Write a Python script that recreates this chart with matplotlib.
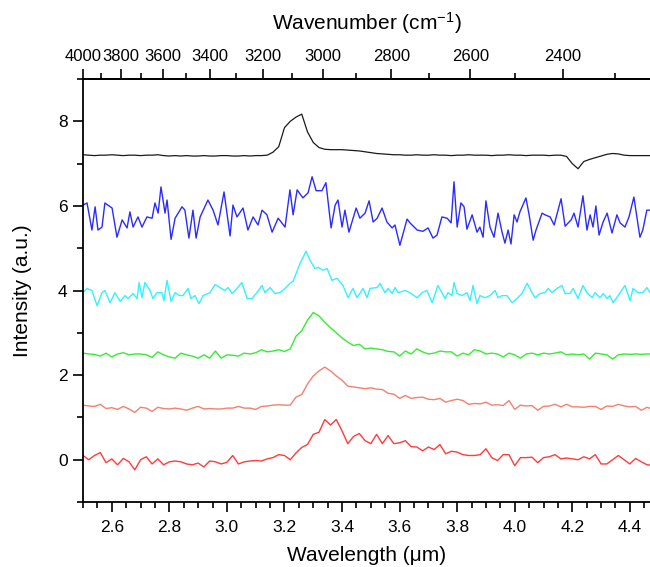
import numpy as np
import matplotlib.pyplot as plt
from matplotlib.ticker import MultipleLocator, FixedLocator

plt.rcParams["font.family"] = ["Liberation Sans", "DejaVu Sans"]
plt.rcParams["mathtext.fontset"] = "custom"
plt.rcParams["mathtext.rm"] = "Liberation Sans"
plt.rcParams["mathtext.default"] = "regular"

# common sampling grid in wavelength (um) for the smoother traces
wavelength = np.round(np.arange(2.50, 4.49, 0.02), 2)

black = [7.21, 7.20, 7.19, 7.20, 7.20, 7.21, 7.20, 7.19, 7.20, 7.20,
         7.19, 7.20, 7.20, 7.21, 7.19, 7.18, 7.19, 7.18, 7.19, 7.18,
         7.18, 7.19, 7.18, 7.18, 7.19, 7.19, 7.18, 7.18, 7.19, 7.18,
         7.19, 7.19, 7.20, 7.27, 7.40, 7.85, 8.00, 8.10, 8.17, 7.75,
         7.50, 7.38, 7.34, 7.33, 7.33, 7.33, 7.32, 7.31, 7.30, 7.28,
         7.26, 7.24, 7.23, 7.22, 7.21, 7.21, 7.20, 7.20, 7.21, 7.20,
         7.20, 7.21, 7.20, 7.20, 7.19, 7.20, 7.20, 7.21, 7.20, 7.20,
         7.20, 7.19, 7.20, 7.20, 7.21, 7.20, 7.20, 7.19, 7.20, 7.20,
         7.20, 7.19, 7.20, 7.20, 7.17, 7.00, 6.88, 7.05, 7.10, 7.14,
         7.18, 7.22, 7.24, 7.23, 7.20, 7.19, 7.19, 7.19, 7.19, 7.19]

# noisy traces, read point by point
blue_wl = [2.500, 2.514, 2.531, 2.542, 2.552, 2.566, 2.576, 2.601, 2.618, 2.636,
           2.653, 2.663, 2.674, 2.691, 2.705, 2.722, 2.740, 2.750, 2.761, 2.771,
           2.785, 2.792, 2.806, 2.820, 2.844, 2.854, 2.868, 2.882, 2.893, 2.907,
           2.934, 2.952, 2.969, 2.990, 3.011, 3.021, 3.035, 3.056, 3.073, 3.091,
           3.108, 3.122, 3.139, 3.157, 3.178, 3.202, 3.219, 3.230, 3.244, 3.264,
           3.282, 3.296, 3.310, 3.330, 3.344, 3.362, 3.376, 3.386, 3.400, 3.410,
           3.424, 3.449, 3.462, 3.480, 3.494, 3.508, 3.522, 3.539, 3.556, 3.574,
           3.584, 3.601, 3.626, 3.636, 3.661, 3.681, 3.699, 3.716, 3.730, 3.747,
           3.765, 3.779, 3.789, 3.800, 3.813, 3.824, 3.834, 3.852, 3.869, 3.879,
           3.890, 3.900, 3.914, 3.928, 3.942, 3.956, 3.966, 3.977, 3.987, 3.998,
           4.008, 4.018, 4.039, 4.050, 4.064, 4.074, 4.095, 4.105, 4.123, 4.137,
           4.161, 4.175, 4.196, 4.206, 4.220, 4.237, 4.251, 4.262, 4.272, 4.282,
           4.293, 4.307, 4.321, 4.338, 4.355, 4.366, 4.383, 4.397, 4.414, 4.435,
           4.445, 4.459, 4.477]
blue = [6.02, 6.07, 5.43, 5.98, 5.43, 5.50, 6.07, 5.95, 5.26, 5.67,
        5.48, 5.86, 5.50, 5.74, 5.50, 5.74, 5.71, 6.07, 5.83, 6.45,
        5.83, 6.14, 5.21, 5.71, 5.98, 5.90, 5.24, 5.90, 5.24, 5.74,
        6.14, 5.90, 5.55, 6.33, 5.29, 6.02, 5.74, 5.95, 5.43, 5.74,
        5.55, 5.90, 5.79, 5.38, 5.71, 5.50, 6.38, 5.79, 6.38, 6.19,
        6.31, 6.69, 6.36, 6.36, 6.55, 5.48, 6.02, 6.14, 5.50, 5.90,
        5.38, 5.95, 5.71, 5.83, 6.12, 5.62, 5.71, 5.95, 5.62, 5.48,
        5.55, 5.07, 5.69, 5.60, 5.43, 5.40, 5.48, 5.24, 5.31, 5.74,
        5.71, 5.60, 6.57, 5.50, 6.07, 5.98, 5.45, 5.79, 5.38, 5.50,
        5.26, 6.12, 5.50, 5.26, 5.83, 5.38, 5.12, 5.43, 5.10, 5.79,
        5.62, 5.86, 6.19, 5.79, 5.19, 5.43, 5.83, 5.79, 5.74, 5.55,
        6.17, 5.52, 5.67, 5.83, 5.50, 6.24, 5.43, 5.79, 5.50, 6.00,
        5.31, 5.62, 5.83, 5.36, 5.79, 5.60, 5.50, 5.74, 6.21, 5.26,
        5.43, 5.90, 5.90]

cyan_wl = [2.500, 2.514, 2.531, 2.549, 2.566, 2.576, 2.594, 2.611, 2.629, 2.646,
           2.656, 2.674, 2.688, 2.695, 2.705, 2.715, 2.733, 2.743, 2.757, 2.774,
           2.781, 2.792, 2.806, 2.820, 2.834, 2.847, 2.865, 2.875, 2.889, 2.903,
           2.917, 2.941, 2.959, 2.976, 2.993, 3.004, 3.018, 3.035, 3.052, 3.070,
           3.087, 3.104, 3.122, 3.132, 3.150, 3.167, 3.184, 3.202, 3.219, 3.230,
           3.254, 3.275, 3.289, 3.306, 3.317, 3.334, 3.348, 3.365, 3.383, 3.403,
           3.421, 3.438, 3.452, 3.473, 3.487, 3.497, 3.522, 3.532, 3.549, 3.560,
           3.574, 3.584, 3.595, 3.619, 3.636, 3.661, 3.678, 3.695, 3.713, 3.733,
           3.758, 3.768, 3.782, 3.789, 3.800, 3.817, 3.834, 3.845, 3.855, 3.869,
           3.879, 3.897, 3.914, 3.932, 3.942, 3.956, 3.973, 3.991, 4.008, 4.025,
           4.043, 4.060, 4.071, 4.088, 4.105, 4.116, 4.130, 4.147, 4.164, 4.175,
           4.192, 4.203, 4.220, 4.237, 4.251, 4.269, 4.279, 4.296, 4.307, 4.321,
           4.331, 4.342, 4.359, 4.383, 4.401, 4.411, 4.428, 4.445, 4.459, 4.477]
cyan = [3.95, 4.05, 4.00, 3.64, 3.95, 4.00, 3.71, 3.95, 3.74, 3.88,
        3.81, 3.93, 3.81, 4.19, 3.83, 4.19, 4.00, 3.81, 3.95, 3.95,
        3.76, 4.24, 3.74, 3.95, 3.88, 3.88, 4.05, 3.81, 3.88, 3.69,
        3.88, 3.95, 4.14, 4.07, 4.00, 4.07, 3.93, 4.05, 4.19, 3.81,
        3.81, 3.95, 4.12, 3.95, 4.07, 3.93, 3.95, 4.05, 4.17, 4.22,
        4.64, 4.93, 4.71, 4.52, 4.55, 4.48, 4.52, 4.24, 4.29, 4.12,
        3.83, 4.05, 3.83, 4.05, 3.83, 4.05, 4.07, 4.17, 3.95, 4.05,
        3.93, 4.07, 3.95, 4.00, 3.95, 3.83, 3.95, 4.00, 3.71, 4.12,
        3.81, 3.95, 3.88, 4.19, 3.93, 3.88, 3.95, 3.76, 4.12, 3.69,
        3.88, 3.83, 3.88, 4.00, 3.83, 3.88, 3.88, 3.71, 3.81, 3.93,
        4.17, 3.95, 3.83, 3.93, 3.95, 4.05, 3.95, 4.05, 4.12, 3.93,
        3.93, 4.05, 3.81, 4.12, 3.95, 3.83, 3.95, 3.83, 3.93, 3.81,
        3.88, 3.71, 3.88, 4.12, 3.76, 4.05, 3.95, 3.95, 4.07, 3.88]

green = [2.52, 2.50, 2.49, 2.45, 2.52, 2.43, 2.50, 2.53, 2.48, 2.50,
         2.50, 2.48, 2.42, 2.55, 2.48, 2.43, 2.40, 2.52, 2.48, 2.45,
         2.40, 2.48, 2.40, 2.57, 2.40, 2.48, 2.47, 2.45, 2.52, 2.50,
         2.53, 2.60, 2.55, 2.57, 2.60, 2.56, 2.62, 2.92, 3.05, 3.30,
         3.48, 3.40, 3.25, 3.12, 3.00, 2.88, 2.78, 2.70, 2.73, 2.62,
         2.64, 2.62, 2.60, 2.56, 2.55, 2.45, 2.57, 2.50, 2.62, 2.55,
         2.50, 2.52, 2.57, 2.55, 2.55, 2.45, 2.52, 2.48, 2.60, 2.57,
         2.50, 2.52, 2.50, 2.43, 2.52, 2.48, 2.40, 2.50, 2.52, 2.48,
         2.52, 2.50, 2.52, 2.55, 2.48, 2.50, 2.48, 2.50, 2.38, 2.52,
         2.50, 2.48, 2.38, 2.48, 2.50, 2.49, 2.50, 2.49, 2.50, 2.50]

salmon = [1.29, 1.27, 1.26, 1.31, 1.21, 1.23, 1.19, 1.26, 1.20, 1.12,
          1.24, 1.22, 1.14, 1.24, 1.21, 1.20, 1.22, 1.20, 1.17, 1.22,
          1.26, 1.20, 1.21, 1.20, 1.20, 1.22, 1.22, 1.26, 1.22, 1.22,
          1.19, 1.26, 1.27, 1.29, 1.30, 1.29, 1.29, 1.48, 1.54, 1.79,
          1.98, 2.10, 2.19, 2.10, 1.98, 1.88, 1.74, 1.72, 1.70, 1.68,
          1.70, 1.67, 1.66, 1.57, 1.55, 1.45, 1.52, 1.45, 1.47, 1.48,
          1.43, 1.42, 1.45, 1.36, 1.40, 1.43, 1.40, 1.31, 1.33, 1.32,
          1.36, 1.29, 1.30, 1.28, 1.40, 1.19, 1.29, 1.27, 1.28, 1.17,
          1.26, 1.27, 1.31, 1.25, 1.31, 1.25, 1.25, 1.24, 1.26, 1.26,
          1.19, 1.27, 1.26, 1.31, 1.27, 1.25, 1.26, 1.17, 1.24, 1.19]

red = [0.10, 0.00, 0.10, 0.17, -0.07, 0.02, -0.12, 0.03, -0.05, -0.24,
       0.00, 0.07, -0.10, 0.02, -0.12, -0.05, -0.03, -0.05, -0.10, -0.12,
       -0.08, -0.17, -0.03, -0.05, -0.10, -0.06, 0.10, -0.10, -0.05, -0.03,
       -0.02, -0.03, 0.02, 0.05, 0.12, 0.10, 0.00, 0.16, 0.29, 0.36,
       0.60, 0.65, 0.95, 0.82, 0.95, 0.68, 0.38, 0.55, 0.62, 0.45,
       0.38, 0.60, 0.38, 0.57, 0.38, 0.40, 0.45, 0.31, 0.30, 0.21,
       0.30, 0.24, 0.36, 0.14, 0.20, 0.18, 0.12, 0.10, 0.10, 0.12,
       0.26, 0.05, -0.02, 0.12, 0.12, -0.14, 0.05, 0.05, 0.06, -0.07,
       0.05, 0.07, 0.12, 0.02, 0.04, 0.02, 0.00, 0.07, 0.02, 0.12,
       -0.10, -0.10, 0.00, 0.10, 0.00, -0.10, 0.03, -0.05, -0.12, -0.13]

series = [
    (wavelength, red, "#ff3b3b", 1.0),
    (wavelength, salmon, "#f5806e", 1.0),
    (wavelength, green, "#33ee33", 1.0),
    (cyan_wl, cyan, "#33f2ff", 1.0),
    (blue_wl, blue, "#2b2bff", 1.0),
    (wavelength, black, "#1a1a1a", 0.9),
]

wn_major = [4000, 3800, 3600, 3400, 3200, 3000, 2800, 2600, 2400]
wn_minor = [3900, 3700, 3500, 3300, 3100, 2900, 2700, 2500, 2300]


def to_wn(x):
    x = np.asarray(x, dtype=float)
    with np.errstate(divide="ignore", invalid="ignore"):
        return 10000.0 / x


fig = plt.figure(figsize=(6.5, 5.67), dpi=100)
ax = fig.add_axes([0.1277, 0.1146, 0.8723, 0.746])

for xs, vals, col, lw in series:
    ax.plot(xs, vals, color=col, lw=lw)

ax.set_xlim(2.5, 4.47)
ax.set_ylim(-1, 9)
ax.xaxis.set_major_locator(MultipleLocator(0.2))
ax.xaxis.set_minor_locator(MultipleLocator(0.05))
ax.yaxis.set_major_locator(MultipleLocator(2))
ax.yaxis.set_minor_locator(MultipleLocator(1))
ax.xaxis.set_major_formatter(plt.FuncFormatter(lambda v, p: f"{v:.1f}"))

ax.tick_params(which="major", direction="out", length=7, width=1.2,
               labelsize=12.5, pad=4)
ax.tick_params(which="minor", direction="out", length=4, width=1.2)
ax.tick_params(axis="x", which="major", pad=6)

ax.spines["right"].set_visible(False)
for s in ["left", "bottom", "top"]:
    ax.spines[s].set_linewidth(1.3)

ax.set_xlabel("Wavelength (μm)", fontsize=15, labelpad=8)
ax.set_ylabel("Intensity (a.u.)", fontsize=15, labelpad=19)

top = ax.secondary_xaxis("top", functions=(to_wn, to_wn))
top.xaxis.set_major_locator(FixedLocator(wn_major))
top.xaxis.set_minor_locator(FixedLocator(wn_minor))
top.tick_params(which="major", direction="out", length=7, width=1.2,
                labelsize=12, pad=4)
top.tick_params(which="minor", direction="out", length=4, width=1.2)
top.spines["top"].set_linewidth(1.3)
top.set_xlabel("Wavenumber (cm$^{-1}$)", fontsize=15, labelpad=14)

fig.savefig("out.png", dpi=100)
